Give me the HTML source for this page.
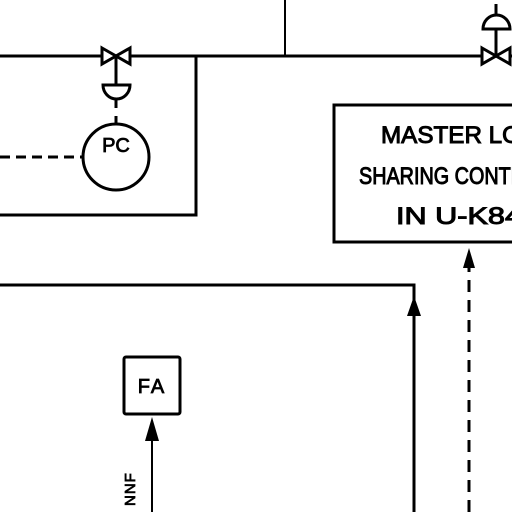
<!DOCTYPE html>
<html><head><style>html,body{margin:0;padding:0;background:#fff;overflow:hidden}</style></head>
<body>
<svg width="512" height="512" viewBox="0 0 512 512" xmlns="http://www.w3.org/2000/svg" font-family="Liberation Sans, sans-serif">
<g stroke="#000" fill="none" stroke-width="3">
  <line x1="0" y1="56" x2="512" y2="56"/>
  <line x1="285" y1="0" x2="285" y2="56" stroke-width="2"/>
  <polyline points="196,56 196,215 0,215"/>
  <polygon points="102,48 116,56 102,64" fill="#fff"/>
  <polygon points="130,48 116,56 130,64" fill="#fff"/>
  <line x1="116" y1="56" x2="116" y2="84"/>
  <path d="M103,85 H130 A13.5,14 0 0 1 103,85 Z" fill="#fff"/>
  <line x1="116" y1="100" x2="116" y2="108"/>
  <line x1="116" y1="116" x2="116" y2="124"/>
  <circle cx="116" cy="157" r="33"/>
  <line x1="0" y1="157" x2="83" y2="157" stroke-dasharray="10,6"/>
  <polygon points="482,48 496,56 482,64" fill="#fff"/>
  <polygon points="510,48 496,56 510,64" fill="#fff"/>
  <line x1="496" y1="4" x2="496" y2="56"/>
  <path d="M483,29 H510 A13.5,14 0 0 0 483,29 Z" fill="#fff"/>
  <rect x="334" y="105" width="190" height="137"/>
  <line x1="469" y1="512" x2="469" y2="266" stroke-dasharray="12,8"/>
  <polyline points="0,285 414,285 414,512"/>
  <rect x="124" y="357" width="56" height="57" rx="2"/>
  <line x1="152" y1="512" x2="152" y2="440" stroke-width="2"/>
</g>
<g fill="#000">
  <polygon points="469,248 463,268 475,268"/>
  <polygon points="414,296 407,316 421,316"/>
  <polygon points="152,417 145,441 159,441"/>
</g>
<g fill="#000" stroke="#000" stroke-width="0.8">
  <text x="116" y="152" font-size="20" text-anchor="middle">PC</text>
  <text x="152" y="393" font-size="20" text-anchor="middle" letter-spacing="2">FA</text>
  <text transform="translate(135,506) rotate(-90)" font-size="15" letter-spacing="1">NNF</text>
</g>
<g fill="#000" stroke="#000" stroke-width="1" font-size="24">
  <text x="381" y="143" textLength="140" lengthAdjust="spacingAndGlyphs">MASTER LO</text>
  <text x="359" y="184" textLength="166" lengthAdjust="spacingAndGlyphs">SHARING CONTR</text>
  <text x="396" y="224" textLength="126" lengthAdjust="spacingAndGlyphs">IN U-K84</text>
</g>
</svg>
</body></html>
